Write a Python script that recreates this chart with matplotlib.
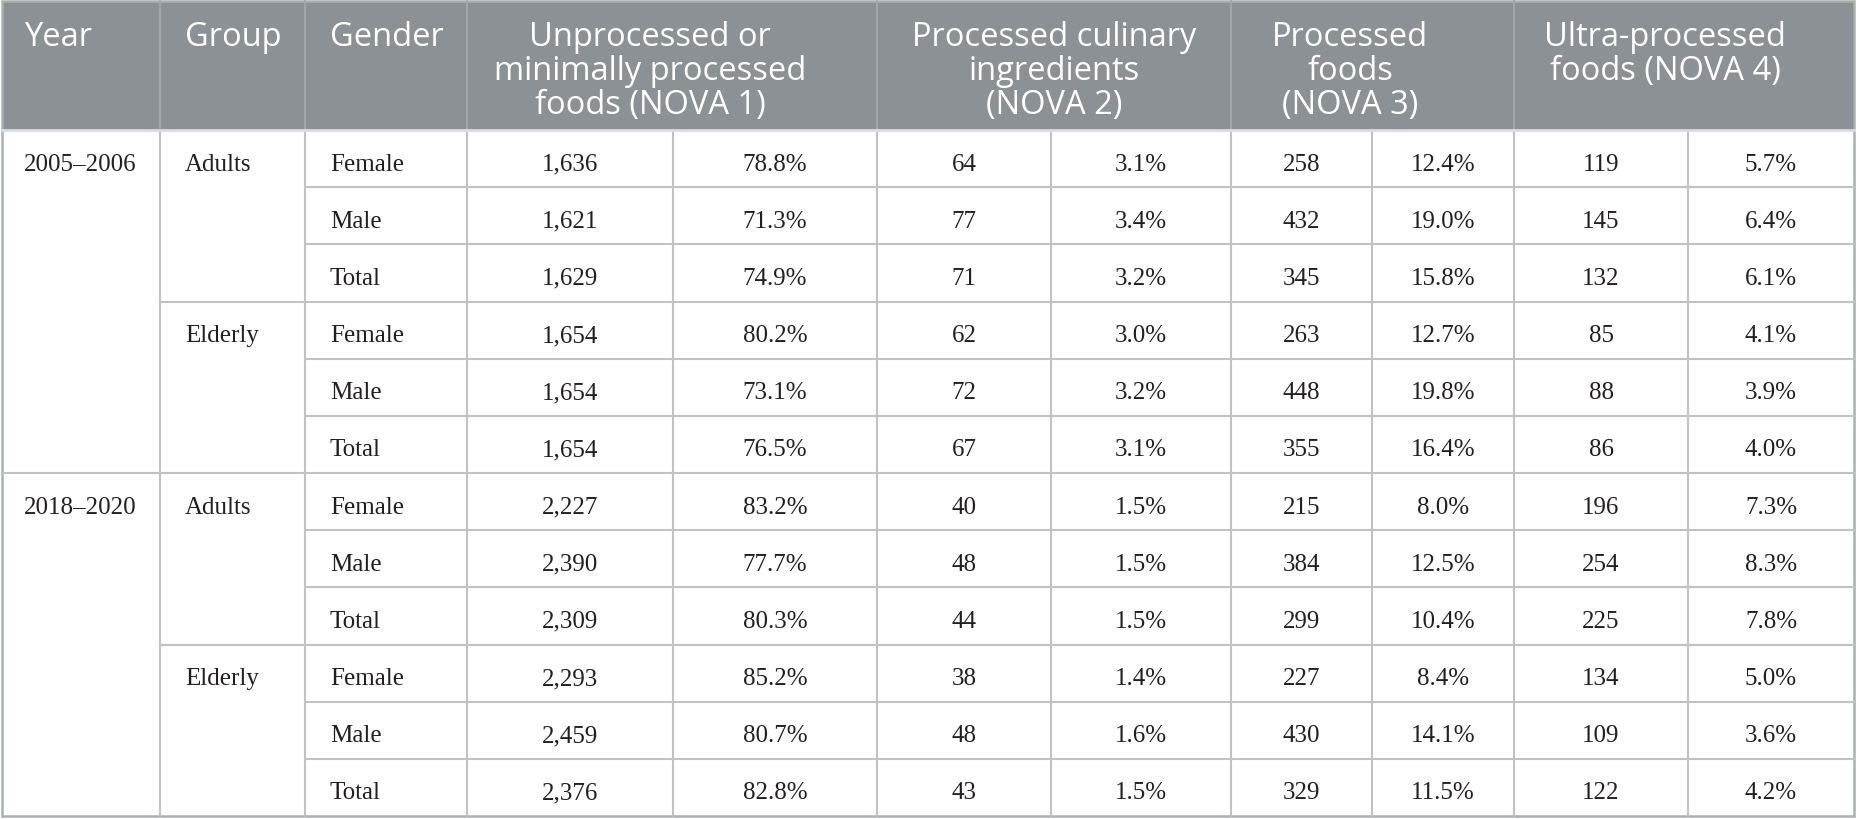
import matplotlib.pyplot as plt
from matplotlib.patches import Rectangle

# table values
years = ['2005–2006', '2018–2020']
groups = ['Adults', 'Elderly']
genders = ['Female', 'Male', 'Total']
nova1_n = [1636, 1621, 1629, 1654, 1654, 1654, 2227, 2390, 2309, 2293, 2459, 2376]
nova1_pct = [78.8, 71.3, 74.9, 80.2, 73.1, 76.5, 83.2, 77.7, 80.3, 85.2, 80.7, 82.8]
nova2_n = [64, 77, 71, 62, 72, 67, 40, 48, 44, 38, 48, 43]
nova2_pct = [3.1, 3.4, 3.2, 3.0, 3.2, 3.1, 1.5, 1.5, 1.5, 1.4, 1.6, 1.5]
nova3_n = [258, 432, 345, 263, 448, 355, 215, 384, 299, 227, 430, 329]
nova3_pct = [12.4, 19.0, 15.8, 12.7, 19.8, 16.4, 8.0, 12.5, 10.4, 8.4, 14.1, 11.5]
nova4_n = [119, 145, 132, 85, 88, 86, 196, 254, 225, 134, 109, 122]
nova4_pct = [5.7, 6.4, 6.1, 4.1, 3.9, 4.0, 7.3, 8.3, 7.8, 5.0, 3.6, 4.2]

left_headers = ['Year', 'Group', 'Gender']
nova_headers = [
    ['Unprocessed or', 'minimally processed', 'foods (NOVA 1)'],
    ['Processed culinary', 'ingredients', '(NOVA 2)'],
    ['Processed', 'foods', '(NOVA 3)'],
    ['Ultra-processed', 'foods (NOVA 4)'],
]

# layout in pixels
W, H = 1857, 820
col_x = [2, 160, 305, 467, 673, 877, 1051, 1231, 1372, 1514, 1688, 1854]
head_top, head_bot = 2, 131
table_bot = 817
row_h = (table_bot - head_bot) / 12
head_cx = [650, 1054, 1350, 1665]
head_base = [46, 80, 114]
text_pad = [22, 25, 25]

HEAD_BG = '#8b9194'
HEAD_SEP = '#a2a8aa'
GRID = '#c2c2c2'
BORDER = '#a9b1ad'
TXT = '#231f20'
serif = ['Liberation Serif', 'DejaVu Serif']
sans = ['Open Sans', 'DejaVu Sans']
HEAD_FS = 23.5
BODY_FS = 18

fig = plt.figure(figsize=(W / 100, H / 100), dpi=100)
ax = fig.add_axes([0, 0, 1, 1])
ax.set_xlim(0, W)
ax.set_ylim(H, 0)
ax.axis('off')

# header
ax.add_patch(Rectangle((col_x[0], head_top), col_x[-1] - col_x[0], head_bot - head_top,
                       facecolor=HEAD_BG, edgecolor='none'))
for x in [col_x[1], col_x[2], col_x[3], col_x[5], col_x[7], col_x[9]]:
    ax.plot([x, x], [head_top, head_bot], color=HEAD_SEP, lw=1.4)
for i, lab in enumerate(left_headers):
    ax.text(col_x[i] + text_pad[i], head_base[0], lab, color='white', fontsize=HEAD_FS,
            family=sans, ha='left', va='baseline')
for cx, lines in zip(head_cx, nova_headers):
    for k, line in enumerate(lines):
        ax.text(cx, head_base[k], line, color='white', fontsize=HEAD_FS,
                family=sans, ha='center', va='baseline')

# body rows
columns = [nova1_n, nova1_pct, nova2_n, nova2_pct, nova3_n, nova3_pct, nova4_n, nova4_pct]
nrows = len(nova1_n)
for r in range(nrows):
    y0 = head_bot + r * row_h
    yb = y0 + row_h / 2 + 11
    if r % 6 == 0:
        ax.text(col_x[0] + text_pad[0], yb, years[r // 6], color=TXT, fontsize=BODY_FS,
                family=serif, ha='left', va='baseline')
    if r % 3 == 0:
        ax.text(col_x[1] + text_pad[1], yb, groups[(r // 3) % 2], color=TXT, fontsize=BODY_FS,
                family=serif, ha='left', va='baseline')
    ax.text(col_x[2] + text_pad[2], yb, genders[r % 3], color=TXT, fontsize=BODY_FS,
            family=serif, ha='left', va='baseline')
    for c, vals in enumerate(columns):
        v = vals[r]
        s = '{:,}'.format(v) if c % 2 == 0 else '{:.1f}%'.format(v)
        cx = (col_x[c + 3] + col_x[c + 4]) / 2
        ax.text(cx, yb, s, color=TXT, fontsize=BODY_FS, family=serif,
                ha='center', va='baseline')

# grid lines
for r in range(1, nrows):
    y = head_bot + r * row_h
    if r % 6 == 0:
        x_start = col_x[0]
    elif r % 3 == 0:
        x_start = col_x[1]
    else:
        x_start = col_x[2]
    ax.plot([x_start, col_x[-1]], [y, y], color=GRID, lw=1.5)
for x in col_x[1:-1]:
    ax.plot([x, x], [head_bot, table_bot], color=GRID, lw=1.5)
ax.plot([col_x[0], col_x[-1]], [head_bot, head_bot], color='#d8dcdc', lw=2)

# outer border
ax.add_patch(Rectangle((col_x[0], head_top), col_x[-1] - col_x[0], table_bot - head_top,
                       facecolor='none', edgecolor=BORDER, lw=1.8))

fig.savefig('out.png', dpi=100)
